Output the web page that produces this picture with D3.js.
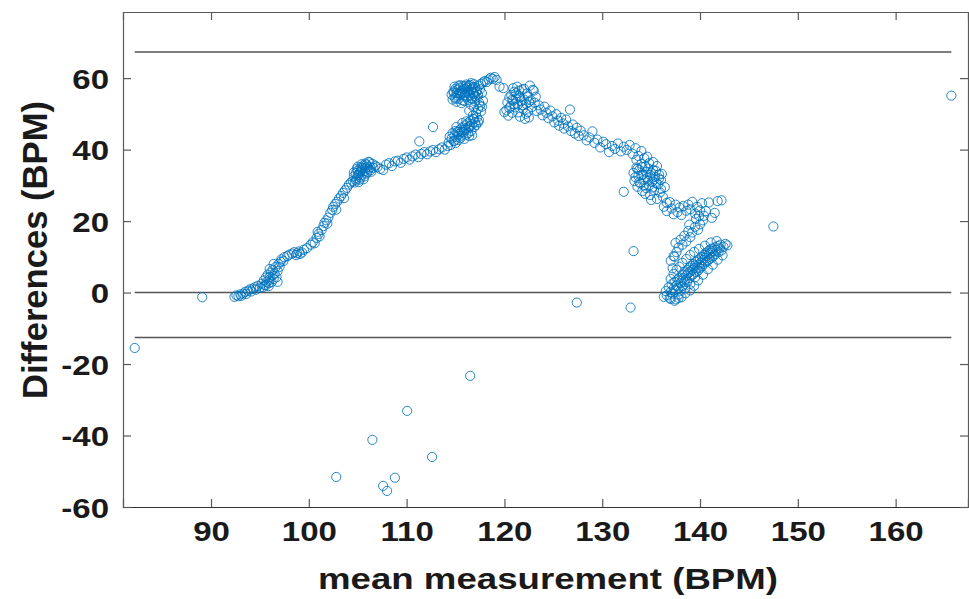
<!DOCTYPE html>
<html>
<head>
<meta charset="utf-8">
<script src="https://cdn.jsdelivr.net/npm/d3@7/dist/d3.min.js"></script>
<style>
  html, body { margin: 0; padding: 0; background: #fff; }
  svg { display: block; }
  text { font-family: "Liberation Sans", Arial, Helvetica, sans-serif; fill: #1a1a1a; }
</style>
</head>
<body>
<svg id="chart" width="969" height="599"></svg>
<script>
// ---------- data ----------
const xTicks = [90, 100, 110, 120, 130, 140, 150, 160];
const yTicks = [-60, -40, -20, 0, 20, 40, 60];
const xLabel = "mean measurement (BPM)";
const yLabel = "Differences (BPM)";

// reference lines: upper limit, zero/mean line, lower limit
const refLevels = [67.3, 0, -12.6];
const refSpan = [82.2, 165.7];

// mean measurement (x) and differences (y) of each sample
const meanBPM = [
  // isolated points
  82.2, 89.1, 127.4, 132.9, 133.2, 147.5, 165.7,
  102.8, 106.5, 107.6, 108.0, 108.8, 110.05, 112.6, 116.5,
  // start of trail
  92.4, 92.6, 92.8, 93.0, 93.1, 93.3, 93.5, 93.6, 93.8, 94.0, 94.1, 94.3, 94.5, 94.6, 94.8, 95.0,
  95.2, 95.4, 95.5, 95.6, 95.7, 95.8, 95.9, 96.0, 96.0, 96.1, 96.2, 96.3, 96.3, 96.4, 96.5, 96.6, 96.7, 96.8, 96.9, 97.0, 97.1, 97.2, 97.4, 97.5,
  95.3, 95.6, 96.0, 96.4, 95.9, 96.8,
  97.8, 98.0, 98.3, 98.5, 98.7, 98.8, 99.0, 99.1, 99.3, 99.5, 99.8,
  100.2, 100.4, 100.6, 100.8, 101.0, 101.1, 101.3, 101.5, 101.6, 101.8, 102.0, 102.2, 102.4, 102.5, 102.7, 102.9, 103.1, 103.3, 103.5, 103.7, 103.9, 104.1, 104.3,
  100.9, 101.9, 102.8, 103.6,
  104.5, 104.6, 104.7, 104.8, 104.9, 105.0, 105.0, 105.1, 105.2, 105.3, 105.3, 105.4, 105.5, 105.6, 105.6, 105.7, 105.8, 105.9, 106.0, 106.1, 106.2, 106.3, 106.4, 106.5, 106.6, 106.8,
  104.6, 104.8, 105.0, 105.1, 105.2, 105.4, 105.5, 105.7, 105.8, 106.0, 106.1, 106.3, 105.3, 104.9, 105.9,
  107.0, 107.3, 107.6, 107.9, 108.2, 108.5, 108.8, 109.1, 109.4, 109.7, 110.0, 110.3, 110.6, 110.9, 111.2, 111.5, 111.8, 112.1, 112.4, 112.7, 113.0, 113.3, 113.6, 113.9, 114.2,
  111.3, 112.7,
  114.3, 114.5, 114.6, 114.8, 114.9, 115.0, 115.1, 115.2, 115.3, 115.4, 115.5, 115.6, 115.7, 115.8, 115.9, 116.0, 116.1, 116.2, 116.3, 116.4, 116.5, 116.6, 116.7, 116.8, 116.9, 117.0, 117.2, 117.4,
  114.4, 114.7, 114.9, 115.1, 115.3, 115.5, 115.7, 115.9, 116.1, 116.3, 116.5, 116.7, 116.9, 117.1, 117.3, 115.0, 115.6, 116.0, 116.4, 116.8,
  117.1, 117.3, 117.5, 117.6, 117.4, 117.7, 116.9, 117.0, 116.6, 117.8, 117.2, 116.4,
  114.6, 114.8, 114.9, 115.0, 115.1, 115.2, 115.3, 115.4, 115.5, 115.6, 115.7, 115.8, 115.9, 116.0, 116.1, 116.2, 116.3, 116.4, 116.5, 116.6, 116.7, 116.8, 116.9, 117.0, 117.2, 117.4, 117.6, 117.8, 118.0, 118.2, 118.4, 118.6, 118.8, 119.0, 119.2, 119.5, 119.9,
  114.7, 114.9, 115.1, 115.2, 115.4, 115.5, 115.6, 115.7, 115.8, 115.9, 116.0, 116.1, 116.2, 116.3, 116.4, 116.5, 116.6, 116.7, 116.8, 116.9, 117.0, 117.1, 117.3, 117.5, 117.7, 115.3, 114.8, 115.0, 116.0, 116.6,
  // right side of the peak
  120.2, 120.3, 120.4, 120.5, 120.6, 120.7, 120.8, 120.9, 121.0, 121.1, 121.2, 121.3, 121.4, 121.5, 121.6, 121.7, 121.8, 121.9, 122.0, 122.1, 122.2, 122.3, 122.4, 122.5, 122.6, 122.8, 123.0, 123.1, 123.3, 123.5, 120.0, 122.9,
  120.5, 120.8, 121.0, 121.2, 121.4, 121.6, 121.8, 122.0, 122.2, 122.4, 122.7, 121.5, 120.9, 122.5, 123.2,
  123.7, 123.9, 124.1, 124.3, 124.5, 124.7, 124.9, 125.1, 125.3, 125.5, 125.6, 125.8, 126.0, 126.1, 126.3, 126.5, 126.7, 126.8, 127.0, 127.2, 127.4, 127.6, 127.8,
  128.1, 128.4, 128.7, 129.0, 129.2, 129.5, 129.8, 130.1, 130.4, 130.7, 131.0, 131.3, 131.6, 131.9, 132.2, 132.5, 132.8, 133.1, 133.4, 133.7, 134.0, 134.3,
  133.2, 133.3, 133.5, 133.6, 133.7, 133.8, 133.9, 134.0, 134.1, 134.2, 134.3, 134.4, 134.5, 134.6, 134.7, 134.8, 134.9, 135.0, 135.1, 135.2, 135.3, 135.4, 135.5, 135.6, 135.7, 135.8, 135.9, 136.0, 136.2, 136.4, 136.6, 133.5, 134.6,
  133.4, 133.6, 133.8, 134.0, 134.1, 134.3, 134.5, 134.7, 134.8, 134.9, 135.1, 135.2, 135.3, 135.5, 135.6, 135.8, 136.0, 136.1, 134.4, 135.0,
  132.2,
  136.3, 136.6, 136.9, 137.1, 137.3, 137.5, 137.7, 137.9, 138.1, 138.3,
  138.6, 138.8, 139.0, 139.2, 139.5, 139.7, 140.0, 140.2, 140.4, 140.6, 140.9, 141.2, 141.5, 141.8, 142.2,
  140.3, 140.0, 139.8, 139.5, 139.2, 139.0, 138.8, 138.6, 138.4, 138.2, 138.0, 137.8, 137.6, 137.5, 137.3, 139.6, 139.9, 138.9,
  // dense band near zero
  136.3, 136.5, 136.6, 136.8, 136.9, 137.0, 137.1, 137.2, 137.3, 137.4, 137.5, 137.5, 137.6, 137.7, 137.8, 137.8, 137.9, 138.0, 138.0, 138.1, 138.2, 138.2, 138.3, 138.4, 138.4, 138.5, 138.5, 138.6, 138.7, 138.7,
  138.8, 138.9, 138.9, 139.0, 139.0, 139.1, 139.1, 139.2, 139.3, 139.3, 139.4, 139.5, 139.5, 139.6, 139.6, 139.7, 139.8, 139.8, 139.9, 140.0, 140.0, 140.1, 140.2, 140.2, 140.3, 140.4, 140.4, 140.5, 140.6, 140.6,
  140.7, 140.8, 140.8, 140.9, 141.0, 141.0, 141.1, 141.2, 141.2, 141.3, 141.4, 141.5, 141.6, 141.7, 141.8, 141.9, 142.0, 142.1, 142.2, 142.4, 142.6, 142.8,
  137.0, 137.3, 137.6, 137.9, 138.2, 138.6, 139.0, 139.4, 139.9, 140.5, 141.1, 141.7,
  138.1, 138.5, 139.0, 139.4, 139.8, 140.3, 140.8, 141.3, 141.8, 142.3, 137.0, 137.4, 137.8,
  137.2, 137.0, 137.4
];

const diffBPM = [
  -15.5, -1.3, -2.8, -4.2, 11.6, 18.5, 55.1,
  -51.6, -41.2, -54.1, -55.5, -51.8, -33.1, -46.0, -23.3,
  -1.2, -0.8, -1.0, -0.5, -0.9, -0.3, 0.2, -0.4, 0.5, 0.9, 0.3, 1.1, 1.5, 0.8, 1.9, 1.4,
  2.5, 3.4, 2.1, 4.2, 3.0, 5.0, 2.6, 4.4, 3.6, 5.6, 2.9, 4.8, 6.3, 3.8, 5.3, 7.1, 4.3, 6.0, 8.0, 7.2, 8.6, 9.3, 8.8, 9.9,
  1.5, 2.0, 6.6, 8.0, 1.8, 3.0,
  10.2, 10.6, 10.9, 11.3, 10.5, 11.0, 11.5, 10.8, 11.2, 12.0, 12.4,
  13.4, 14.1, 13.8, 15.3, 16.4, 15.7, 17.5, 18.6, 19.5, 20.2, 21.0, 22.3, 23.1, 24.0, 24.8, 25.4, 26.3, 27.0, 27.9, 28.6, 29.3, 30.2, 30.8,
  17.0, 19.3, 23.2, 26.4,
  31.2, 32.5, 30.8, 33.4, 31.9, 34.1, 32.8, 30.9, 33.6, 35.0, 32.2, 34.4, 33.0, 35.6, 31.7, 34.0, 36.1, 33.3, 35.2, 34.6, 36.4, 35.0, 33.8, 36.0, 34.9, 35.5,
  33.6, 31.4, 35.2, 33.0, 31.6, 35.9, 34.9, 32.5, 34.8, 33.7, 36.6, 34.2, 33.9, 34.6, 35.8,
  35.1, 34.6, 34.3, 35.8, 36.2, 35.4, 36.7, 36.9, 36.3, 37.4, 37.8, 37.2, 38.1, 38.6, 37.9, 38.8, 39.3, 38.7, 39.5, 39.9, 39.3, 40.1, 40.6, 40.0, 41.0,
  42.3, 46.3,
  42.0, 41.3, 43.1, 42.4, 44.0, 41.8, 43.5, 45.0, 42.7, 44.4, 45.6, 43.9, 46.2, 44.8, 45.4, 46.8, 44.2, 47.3, 45.9, 46.5, 48.0, 45.2, 47.0, 48.6, 46.3, 47.7, 49.0, 48.2,
  43.6, 44.6, 42.5, 46.3, 44.9, 43.2, 47.4, 43.0, 47.9, 44.6, 46.6, 44.0, 48.5, 46.9, 47.6, 45.2, 45.0, 45.8, 43.8, 49.6,
  50.2, 51.4, 52.3, 50.7, 53.2, 52.0, 51.8, 53.5, 52.6, 53.7, 54.6, 50.9,
  55.4, 56.3, 54.6, 57.0, 55.8, 56.7, 54.2, 57.3, 55.5, 56.4, 53.8, 57.8, 55.0, 56.9, 54.7, 57.5, 55.9, 56.6, 58.1, 54.4, 57.1, 56.0, 58.3, 57.4, 56.5, 57.9, 58.4, 58.8, 59.2, 58.9, 59.6, 60.1, 59.8, 60.3, 59.5, 57.6, 57.2,
  54.0, 57.6, 53.4, 55.1, 56.0, 58.0, 53.0, 55.7, 56.9, 53.6, 55.3, 58.2, 56.2, 53.9, 57.8, 55.2, 56.8, 54.2, 57.5, 55.6, 54.9, 56.1, 55.3, 56.9, 55.8, 57.9, 55.9, 54.3, 57.7, 58.6,
  51.0, 53.2, 49.5, 54.6, 52.1, 55.3, 50.3, 53.7, 56.2, 51.8, 54.3, 57.6, 52.6, 55.0, 49.2, 53.5, 56.8, 51.4, 54.0, 48.6, 52.8, 55.7, 50.5, 53.3, 57.9, 51.9, 56.5, 53.1, 50.8, 52.4, 50.5, 56.7,
  51.6, 54.0, 52.7, 55.8, 50.4, 54.6, 52.4, 57.0, 50.0, 54.9, 53.8, 56.5, 57.2, 49.0, 54.8,
  51.2, 49.6, 52.0, 50.3, 48.8, 50.9, 49.3, 47.6, 49.9, 48.1, 46.7, 48.9, 47.3, 45.9, 48.4, 46.5, 51.2, 45.2, 47.0, 44.5, 46.1, 43.8, 45.3,
  44.0, 42.6, 43.4, 45.1, 41.9, 42.8, 40.6, 42.2, 41.5, 39.3, 41.0, 40.2, 41.7, 39.5, 40.8, 39.9, 41.3, 38.8, 40.4, 38.2, 39.6, 37.6,
  33.5, 31.2, 35.0, 29.6, 32.6, 34.3, 30.5, 36.0, 28.4, 33.0, 31.6, 35.3, 29.2, 32.1, 34.7, 30.0, 27.3, 33.5, 31.0, 36.5, 28.6, 32.4, 34.0, 26.2, 30.3, 33.0, 28.0, 31.5, 26.8, 29.5, 25.1, 37.1, 38.0,
  32.3, 34.6, 30.9, 32.8, 35.1, 29.9, 33.7, 31.3, 36.2, 32.9, 29.4, 34.3, 31.6, 30.6, 35.4, 31.9, 29.0, 33.2, 27.6, 25.9,
  28.2,
  24.0, 22.8, 25.3, 23.5, 21.9, 24.6, 22.5, 23.8, 21.7, 24.2,
  22.9, 24.6, 23.3, 25.4, 22.1, 24.0, 23.0, 25.0, 21.5, 22.8, 25.2, 20.9, 22.3, 25.6, 25.8,
  20.2, 19.1, 17.6, 18.4, 16.8, 15.5, 17.2, 14.3, 15.9, 13.4, 14.8, 12.6, 11.3, 13.9, 10.2, 20.6, 21.4, 19.0,
  -1.2, 0.4, -0.8, 1.5, -1.5, 0.2, 2.3, -0.3, 1.1, 3.0, -1.9, 0.8, 2.0, 3.6, 1.3, -0.6, 4.2, 2.6, 0.5, 3.3, 5.0, 1.8, 4.0, 2.9, 5.7, 3.6, 1.2, 4.8, 6.3, 3.0,
  5.4, 4.1, 7.0, 5.9, 2.4, 4.7, 7.5, 6.3, 5.1, 8.0, 6.9, 4.3, 7.6, 5.8, 8.6, 7.0, 9.0, 6.1, 7.9, 9.5, 6.8, 8.4, 10.0, 7.3, 9.1, 10.6, 8.0, 9.7, 11.0, 8.5,
  10.2, 11.5, 8.9, 10.7, 12.0, 9.4, 11.1, 12.3, 9.8, 11.6, 10.3, 12.6, 10.8, 11.9, 13.0, 11.3, 12.4, 13.4, 11.8, 12.8, 13.6, 13.2,
  3.8, 5.2, 6.4, 7.2, 8.3, 9.4, 10.5, 11.4, 12.2, 13.1, 14.0, 14.4,
  -1.3, -0.2, 0.6, 1.9, 3.4, 5.0, 6.5, 7.8, 9.2, 10.4, -1.8, -2.3, -1.5,
  6.8, 8.9, 10.0
];

// ---------- layout ----------
const svg = d3.select("#chart");
const plot = { left: 123, top: 12, right: 968, bottom: 507 };

const x = d3.scaleLinear().domain([81.0, 167.4]).range([plot.left, plot.right]);
const y = d3.scaleLinear().domain([-60, 78.5]).range([plot.bottom, plot.top]);

const axisColor = "#5a5a5a";
const tickStretch = 1.18;

// widen text horizontally like the reference
function stretch(sel, factor) {
  sel.each(function () {
    const len = this.getComputedTextLength();
    d3.select(this).attr("textLength", len * factor).attr("lengthAdjust", "spacingAndGlyphs");
  });
}

// reference lines
svg.append("g").selectAll("line").data(refLevels).join("line")
  .attr("x1", x(refSpan[0])).attr("x2", x(refSpan[1]))
  .attr("y1", d => y(d)).attr("y2", d => y(d))
  .attr("stroke", "#555").attr("stroke-width", 1.5);

// points
const pts = meanBPM.map((m, i) => [m, diffBPM[i]]);
svg.append("g").selectAll("circle").data(pts).join("circle")
  .attr("cx", d => x(d[0])).attr("cy", d => y(d[1]))
  .attr("r", 4.6)
  .attr("fill", "none")
  .attr("stroke", "#0072BD")
  .attr("stroke-width", 1)
  .attr("stroke-opacity", 0.85);

// axes (ticks inward, mirrored box)
const tickLen = 8;
const fmt = d => String(d);
const bottomAxis = d3.axisBottom(x).tickValues(xTicks).tickSize(-tickLen).tickPadding(14).tickFormat(fmt);
const topAxis = d3.axisTop(x).tickValues(xTicks).tickSize(-tickLen).tickFormat("");
const leftAxis = d3.axisLeft(y).tickValues(yTicks).tickSize(-tickLen).tickPadding(14).tickFormat(fmt);
const rightAxis = d3.axisRight(y).tickValues(yTicks).tickSize(-tickLen).tickFormat("");

function styleAxis(g) {
  g.select(".domain").attr("stroke", axisColor).attr("stroke-width", 1.2);
  g.selectAll(".tick line").attr("stroke", axisColor).attr("stroke-width", 1.2);
}

const gB = svg.append("g").attr("transform", `translate(0,${plot.bottom})`).call(bottomAxis).call(styleAxis);
gB.select(".domain").attr("stroke", "#333");
svg.append("g").attr("transform", `translate(0,${plot.top})`).call(topAxis).call(styleAxis);
const gL = svg.append("g").attr("transform", `translate(${plot.left},0)`).call(leftAxis).call(styleAxis);
svg.append("g").attr("transform", `translate(${plot.right},0)`).call(rightAxis).call(styleAxis);

// tick label styling
gB.selectAll(".tick text")
  .attr("font-family", "Liberation Sans, Arial, sans-serif")
  .attr("font-size", 28).attr("font-weight", "bold").attr("fill", "#1a1a1a")
  .attr("dy", "0.72em");
gL.selectAll(".tick text")
  .attr("font-family", "Liberation Sans, Arial, sans-serif")
  .attr("font-size", 28).attr("font-weight", "bold").attr("fill", "#1a1a1a")
  .attr("dy", "0.36em");
stretch(gB.selectAll(".tick text"), tickStretch);
stretch(gL.selectAll(".tick text"), tickStretch);

// axis titles
svg.append("text")
  .attr("x", 548)
  .attr("y", 589)
  .attr("text-anchor", "middle")
  .attr("font-size", 29).attr("font-weight", "bold")
  .attr("textLength", 460).attr("lengthAdjust", "spacingAndGlyphs")
  .text(xLabel);

svg.append("text")
  .attr("transform", `translate(47,250) rotate(-90) scale(1,1.15)`)
  .attr("text-anchor", "middle")
  .attr("font-size", 30).attr("font-weight", "bold")
  .attr("textLength", 298).attr("lengthAdjust", "spacingAndGlyphs")
  .text(yLabel);
</script>
</body>
</html>
